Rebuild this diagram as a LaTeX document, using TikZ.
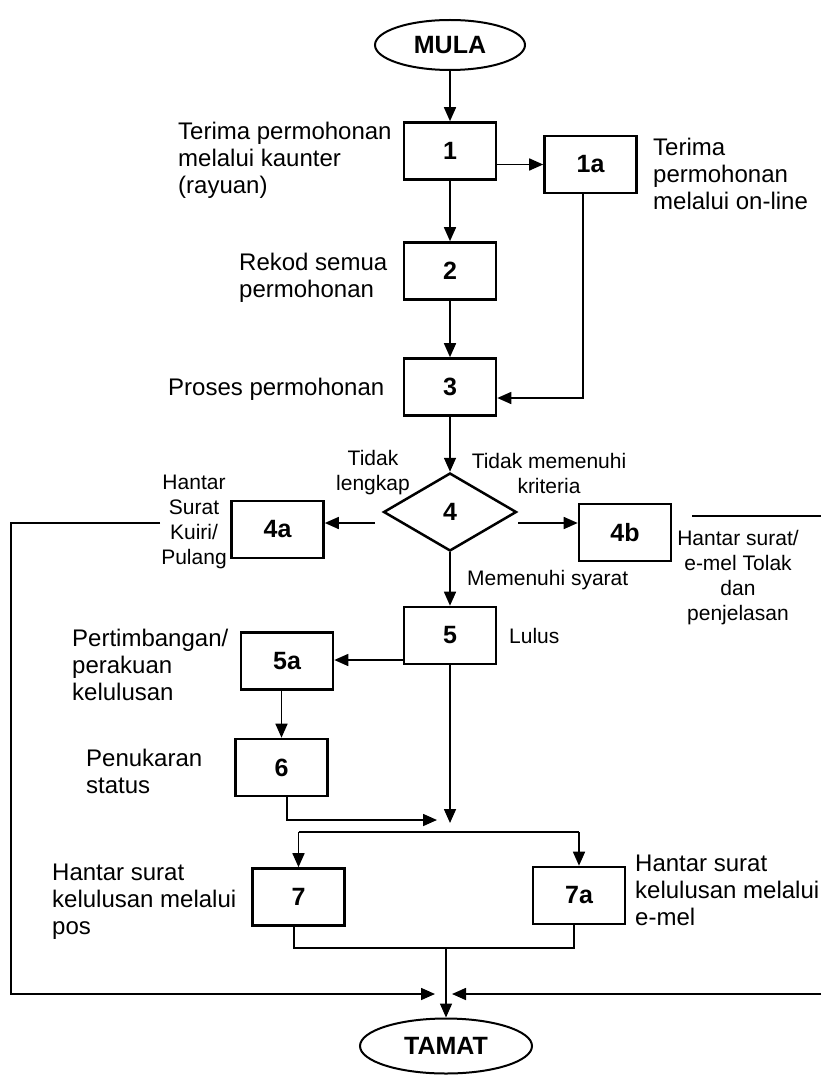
\documentclass[tikz,border=0pt]{standalone}
\usepackage{fontspec}
\setmainfont{Liberation Sans}
\usetikzlibrary{shapes.geometric,arrows.meta}
\begin{document}
\begin{tikzpicture}[x=1pt,y=-1pt,
  conn/.style={line width=1.6pt},
  arr/.style={conn,-{Triangle[length=14pt,width=12pt]}},
  box/.style={draw,line width=2.6pt,minimum width=92pt,minimum height=57pt,inner sep=0pt,font=\fontsize{25}{28}\bfseries\selectfont},
  term/.style={draw,ellipse,line width=2pt,inner sep=0pt,font=\fontsize{25}{28}\bfseries\selectfont},
  dec/.style={draw,diamond,line width=2.5pt,minimum width=133pt,minimum height=78pt,inner sep=0pt,font=\fontsize{25}{28}\bfseries\selectfont},
  lbl/.style={inner sep=0pt,font=\fontsize{24}{27}\selectfont,align=left},
  sm/.style={inner sep=0pt,font=\fontsize{21}{25}\selectfont,align=center}]
\useasboundingbox[fill=white] (0,0) rectangle (821,1075);

% nodes
\node[term,minimum width=150pt,minimum height=50pt] (mula) at (450,45) {MULA};
\node[box] (b1) at (450,151) {1};
\node[box] (b1a) at (590.5,164.5) {1a};
\node[box] (b2) at (450,271) {2};
\node[box] (b3) at (450,387) {3};
\node[dec] (d4) at (450,512) {4};
\node[box] (b4a) at (277.5,529.5) {4a};
\node[box] (b4b) at (625,532.5) {4b};
\node[box] (b5) at (450,635.5) {5};
\node[box] (b5a) at (287,661) {5a};
\node[box] (b6) at (281.5,767.5) {6};
\node[box] (b7) at (298.5,897) {7};
\node[box] (b7a) at (579,895.5) {7a};
\node[term,minimum width=172pt,minimum height=55pt] (tamat) at (446,1046) {TAMAT};

% labels
\node[lbl,anchor=west] (t1) at (178,160) {Terima permohonan\\melalui kaunter\\(rayuan)};
\node[lbl,anchor=west] (t1a) at (653,174) {Terima\\permohonan\\melalui on-line};
\node[lbl,anchor=west] (t2) at (239,278) {Rekod semua\\permohonan};
\node[lbl,anchor=west] (t3) at (168,389) {Proses permohonan};
\node[sm] (t4a) at (194,522) {Hantar\\Surat\\Kuiri/\\Pulang};
\node[sm] (tl) at (373,473) {Tidak\\lengkap};
\node[sm] (tk) at (549,473) {Tidak memenuhi\\kriteria};
\node[sm,anchor=west] (tm) at (467,580) {Memenuhi syarat};
\node[sm] (t4b) at (738,578) {Hantar surat/\\e-mel Tolak\\dan\\penjelasan};
\node[sm,anchor=west] (tlu) at (509,636) {Lulus};
\node[lbl,anchor=west] (t5a) at (72,665) {Pertimbangan/\\perakuan\\kelulusan};
\node[lbl,anchor=west] (t6) at (86,771) {Penukaran\\status};
\node[lbl,anchor=west] (t7) at (52,902) {Hantar surat\\kelulusan melalui\\pos};
\node[lbl,anchor=west] (t7a) at (635,890) {Hantar surat\\kelulusan melalui\\e-mel};

% coordinates
\coordinate (l4) at (375,523);
\coordinate (r4) at (518,523);
\coordinate (in3) at (583,398);
\coordinate (lq) at (160,523);
\coordinate (lc) at (11,994);
\coordinate (ltip) at (435,994);
\coordinate (rq) at (692,516);
\coordinate (rqe) at (821,516);
\coordinate (rc) at (821,994);
\coordinate (rtip) at (452,994);
\coordinate (a5) at (405,660);
\coordinate (m6) at (437,820);
\coordinate (m5) at (450,823);
\coordinate (sp) at (450,832);
\coordinate (jn) at (446,948);

% connectors
\draw[arr] (mula.south) -- (b1.north);
\draw[arr] (b1.east |- b1a.west) -- (b1a.west);
\draw[arr] (b1.south) -- (b2.north);
\draw[arr] (b2.south) -- (b3.north);
\draw[arr] (b1a.south -| in3) |- (b3.east |- in3);
\draw[arr] (b3.south) -- (d4.north);
\draw[arr] (l4) -- (l4 -| b4a.east);
\draw[arr] (r4) -- (r4 -| b4b.west);
\draw[arr] (d4.south) -- (b5.north);
\draw[arr] (lq) -| (lc) -- (ltip);
\draw[conn] (rq) -- (rqe);
\draw[arr] (rc) -- (rtip);
\draw[arr] (b5.west |- a5) -- (a5 -| b5a.east);
\draw[arr] (b6.north |- b5a.south) -- (b6.north);
\draw[arr] ([xshift=5.5pt]b6.south) |- (m6);
\draw[arr] (b5.south) -- (m5);
\draw[conn] (b7.north |- sp) -- (b7a.north |- sp);
\draw[arr] (b7.north |- sp) -- (b7.north);
\draw[arr] (b7a.north |- sp) -- (b7a.north);
\draw[conn] ([xshift=-4.5pt]b7.south) |- (jn) -| ([xshift=-5pt]b7a.south);
\draw[arr] (jn) -- (tamat.north);
\end{tikzpicture}
\end{document}
